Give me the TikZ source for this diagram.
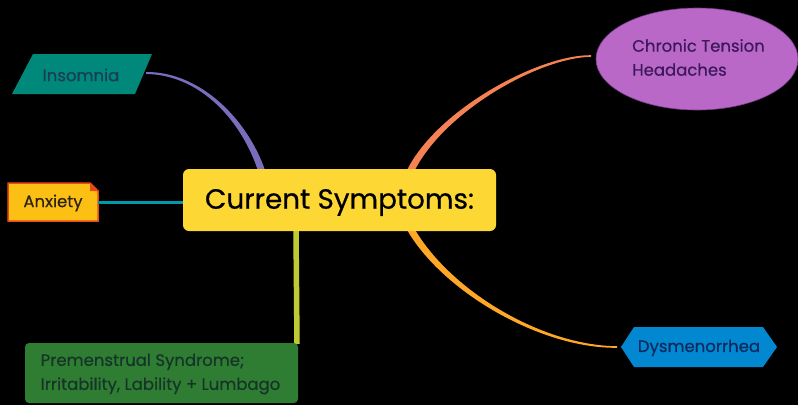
\documentclass[tikz,border=0pt]{standalone}
\usepackage{fontspec}
\setmainfont{Poppins}
\newfontfamily\boldishfont[FakeBold=0.5]{Poppins}
\usetikzlibrary{shapes.geometric}
\definecolor{bgblack}{RGB}{0,0,0}
\definecolor{cyellow}{RGB}{253,216,53}
\definecolor{cteal}{RGB}{0,137,123}
\definecolor{ctealtxt}{RGB}{26,62,86}
\definecolor{canx}{RGB}{252,192,20}
\definecolor{canxb}{RGB}{230,74,25}
\definecolor{cgreen}{RGB}{46,125,50}
\definecolor{cpurple}{RGB}{186,104,200}
\definecolor{cpurpleb}{RGB}{120,60,140}
\definecolor{cblue}{RGB}{2,136,209}
\definecolor{lpurple}{RGB}{121,110,190}
\definecolor{lteal}{RGB}{0,151,175}
\definecolor{llime}{RGB}{192,202,51}
\definecolor{lorange}{RGB}{245,130,85}
\definecolor{lamber}{RGB}{255,167,38}
\tikzset{
  small/.style={font=\boldishfont\fontsize{16.5}{24}\selectfont},
  centerbox/.style={rectangle, rounded corners=6pt, fill=cyellow, minimum width=313pt, minimum height=62pt, inner sep=0pt,
    text=black},
}
\begin{document}
\begin{tikzpicture}[x=1pt,y=-1pt]
\fill[bgblack] (0,0) rectangle (798,405);
\useasboundingbox (0,0) rectangle (798,405);

% connectors (drawn first, under the boxes)
\coordinate (insS) at (146,73);
\coordinate (insE) at (262,172);
\fill[lpurple] (146,72) .. controls (200,71.5) and (247.65,119.1) .. (265.3,171)
  -- (258.7,173) .. controls (242.35,120.9) and (200,74.5) .. (146,74) -- cycle;

\coordinate (headS) at (591,56);
\coordinate (headE) at (410,172);
\fill[lorange] (591,56.8) .. controls (540,57.5) and (442.7,111.3) .. (413.15,173.5)
  -- (406.85,170.5) .. controls (437.3,108.7) and (540,54.5) .. (591,55.2) -- cycle;

\coordinate (dysS) at (617,347);
\coordinate (dysE) at (410,228);
\fill[lamber] (617,347.8) .. controls (540,348.5) and (442.4,291.5) .. (406.95,229.7)
  -- (413.05,226.3) .. controls (447.6,288.5) and (540,345.5) .. (617,346.2) -- cycle;

% central node
\node[centerbox] (center) at (339.5,200) {};
\node[font=\boldishfont\fontsize{27.8}{32}\selectfont, text=black] (centertxt) at (339.5,202.5) {Current Symptoms:};

% Insomnia
\fill[cteal] (33,54) -- (152,54) -- (135,94) -- (12,94) -- cycle;
\node[small, text=ctealtxt] (ins) at (81,75) {Insomnia};

% Anxiety
\fill[canx] (8,183) -- (90,183) -- (98,191) -- (98,221) -- (8,221) -- cycle;
\draw[canxb, line width=1.5pt, line join=miter] (8,183) -- (90,183) -- (98,191) -- (98,221) -- (8,221) -- cycle;
\fill[canxb] (90,183) -- (98,191) -- (90,191) -- cycle;
\node[small, text={rgb,255:red,45;green,35;blue,20}] (anx) at (53,203) {Anxiety};
\draw[lteal, line width=3pt] (98,202) -- (center.west |- 0,202);

% Premenstrual
\draw[llime, line width=5.5pt] (center.south -| 296,0) -- (297,344);
\node[rectangle, rounded corners=4pt, fill=cgreen, minimum width=273pt, minimum height=60pt, inner sep=0pt] (pmsbox) at (161.5,373) {};
\node[small, align=left, text={rgb,255:red,22;green,52;blue,40}] (pms) at (160.5,374) {Premenstrual Syndrome;\\Irritability, Lability + Lumbago};

% Headaches ellipse
\node[ellipse, fill=cpurple, draw=cpurpleb, line width=0.6pt, minimum width=202pt, minimum height=102pt, inner sep=0pt] (headbox) at (697,59) {};
\node[small, align=left, text={rgb,255:red,60;green,25;blue,90}] (head) at (698.5,57.5) {Chronic Tension\\Headaches};

% Dysmenorrhea hexagon
\fill[cblue] (621,347) -- (634,327) -- (763,327) -- (777,347) -- (763,367) -- (634,367) -- cycle;
\node[small, text={rgb,255:red,12;green,42;blue,95}] (dys) at (699,348) {Dysmenorrhea};
\end{tikzpicture}
\end{document}
